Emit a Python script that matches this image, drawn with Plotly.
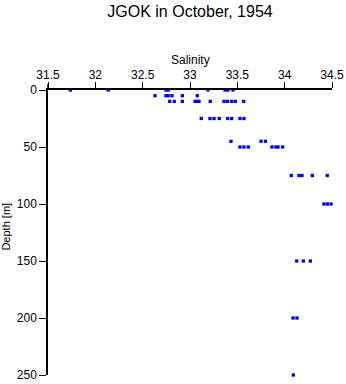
import plotly.graph_objects as go

# Salinity observations by depth (m)
depth_0 = [31.736, 32.137, 32.746, 32.77, 33.19, 33.37, 33.40, 33.454]
depth_5 = [32.63, 32.746, 32.77, 32.81, 32.92, 33.077]
depth_10 = [32.786, 32.834, 32.919, 33.053, 33.075, 33.095, 33.214, 33.359, 33.396, 33.44, 33.478, 33.567]
depth_25 = [33.119, 33.211, 33.254, 33.309, 33.398, 33.44, 33.528, 33.57]
depth_45 = [33.433, 33.75, 33.797]
depth_50 = [33.528, 33.57, 33.616, 33.866, 33.908, 33.93, 33.979]
depth_75 = [34.07, 34.151, 34.183, 34.292, 34.45]
depth_100 = [34.415, 34.452, 34.49]
depth_150 = [34.127, 34.197, 34.271]
depth_200 = [34.088, 34.13]
depth_250 = [34.091]

levels = [0, 5, 10, 25, 45, 50, 75, 100, 150, 200, 250]
salinity_by_level = [depth_0, depth_5, depth_10, depth_25, depth_45, depth_50,
                     depth_75, depth_100, depth_150, depth_200, depth_250]

x_ticks = [31.5, 32, 32.5, 33, 33.5, 34, 34.5]
x_tick_labels = ["31.5", "32", "32.5", "33", "33.5", "34", "34.5"]
y_ticks = [0, 50, 100, 150, 200, 250]

xs, ys = [], []
for d, vals in zip(levels, salinity_by_level):
    for v in vals:
        xs.append(v)
        ys.append(d)

FONT = "Liberation Sans, Arial, Helvetica, sans-serif"

fig = go.Figure()
fig.add_trace(go.Scatter(
    x=xs, y=ys, mode="markers",
    marker=dict(symbol="square", size=3.3, color="#0000FF", line=dict(width=0)),
    showlegend=False, hoverinfo="x+y", cliponaxis=False,
))

fig.update_layout(
    width=346, height=384,
    margin=dict(l=48, r=14, t=90, b=9),
    paper_bgcolor="white", plot_bgcolor="white",
    font=dict(family=FONT, size=12, color="black"),
    title=dict(text="JGOK in October, 1954", x=190/346, xanchor="center",
               y=1 - 11/384, yanchor="middle", yref="container",
               font=dict(family=FONT, size=16, color="black")),
    xaxis=dict(
        side="top", range=[31.5, 34.5], tickvals=x_ticks, ticktext=x_tick_labels,
        ticks="outside", ticklen=6, tickwidth=1, tickcolor="black",
        showline=True, linecolor="black", linewidth=1.5, showgrid=False, zeroline=False,
        tickfont=dict(size=12), automargin=False, ticklabelstandoff=-2,
    ),
    yaxis=dict(
        range=[250, 0], tickvals=y_ticks,
        ticks="outside", ticklen=7, tickwidth=1, tickcolor="black",
        showline=True, linecolor="black", linewidth=1.5, showgrid=False, zeroline=False,
        tickfont=dict(size=12), automargin=False,
    ),
    annotations=[
        dict(text="Salinity", xref="paper", yref="paper", x=0.5, y=1 + 30/285,
             xanchor="center", yanchor="middle", showarrow=False,
             font=dict(family=FONT, size=12, color="black")),
        dict(text="Depth [m]", xref="paper", yref="paper", x=-41.5/284, y=0.519,
             xanchor="center", yanchor="middle", textangle=-90, showarrow=False,
             font=dict(family=FONT, size=11, color="black")),
    ],
    shapes=[
        dict(type="line", xref="paper", yref="paper", x0=0, x1=0, y0=1, y1=1 + 6/285,
             line=dict(color="black", width=1.5)),
    ],
)

fig.write_html("out.html")
